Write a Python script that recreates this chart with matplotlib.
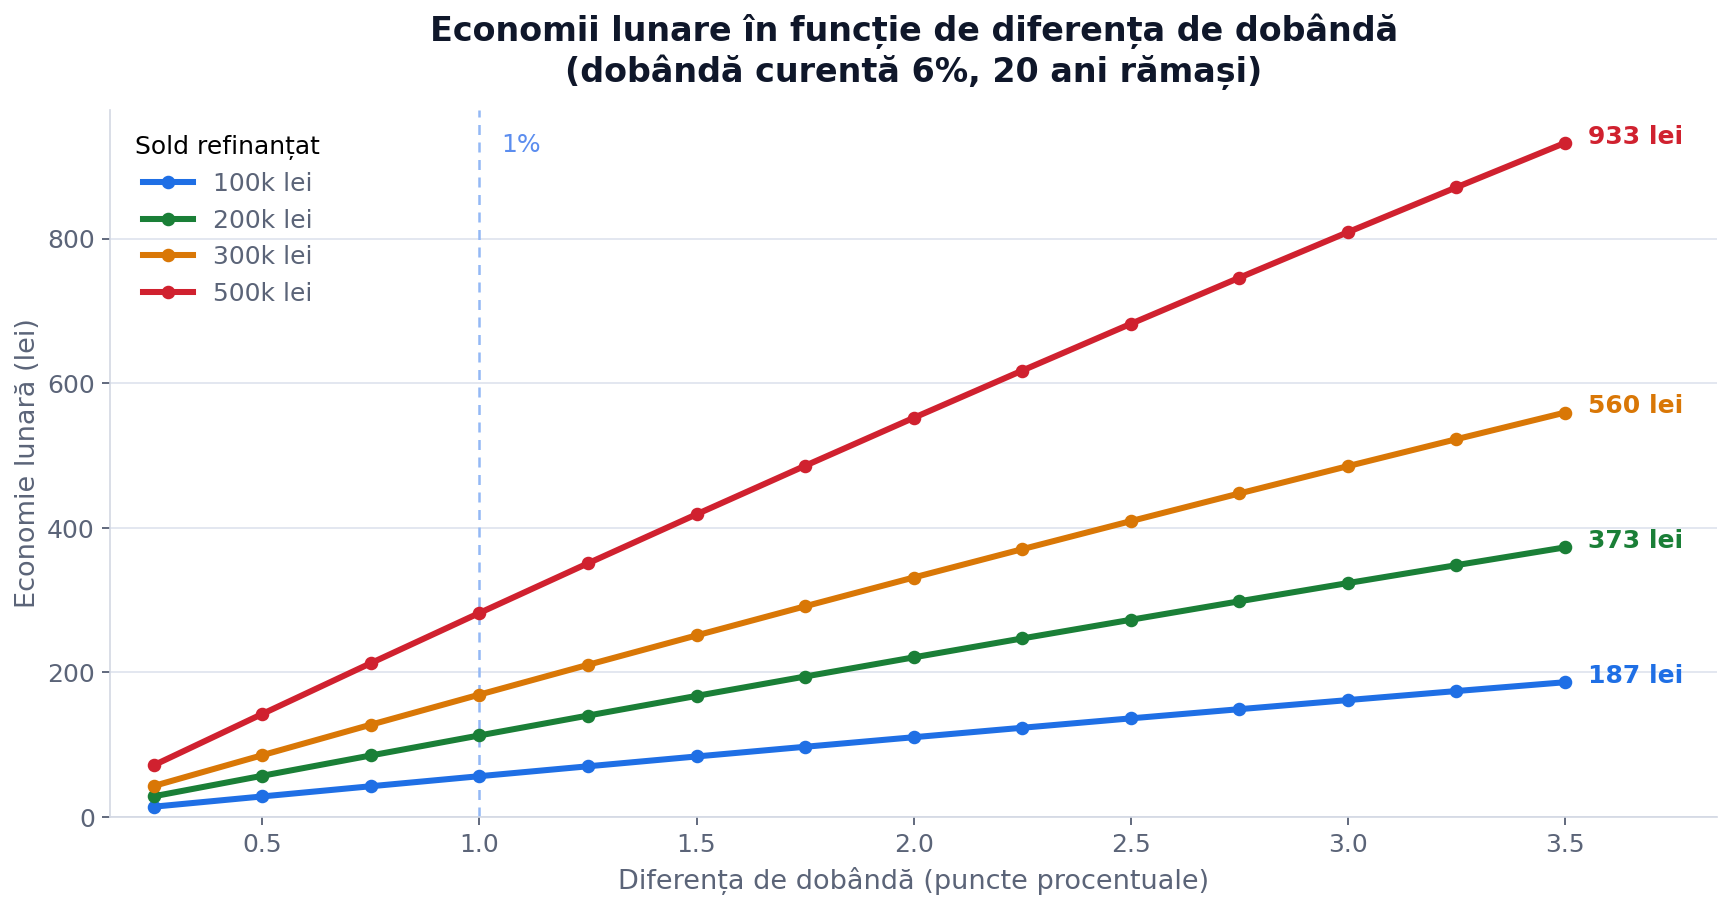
import matplotlib
matplotlib.use("Agg")
import matplotlib.pyplot as plt

plt.rcParams['font.family'] = ['DejaVu Sans']

diff = [0.25, 0.5, 0.75, 1.0, 1.25, 1.5, 1.75, 2.0, 2.25, 2.5, 2.75, 3.0, 3.25, 3.5]
s100 = [14.3, 28.5, 42.6, 56.5, 70.2, 83.8, 97.2, 110.4, 123.5, 136.5, 149.2, 161.8, 174.3, 186.5]
s200 = [28.7, 57.1, 85.2, 112.9, 140.4, 167.6, 194.4, 220.9, 247.1, 272.9, 298.5, 323.7, 348.5, 373.1]
s300 = [43.0, 85.6, 127.8, 169.4, 210.6, 251.3, 291.6, 331.4, 370.6, 409.4, 447.7, 485.5, 522.8, 559.6]
s500 = [71.7, 142.7, 213.0, 282.4, 351.1, 418.9, 486.0, 552.3, 617.7, 682.4, 746.2, 809.2, 871.3, 932.7]
labels = ["100k lei", "200k lei", "300k lei", "500k lei"]
end_labels = ["187 lei", "373 lei", "560 lei", "933 lei"]
colors = ["#1f6fe5", "#1a7f37", "#d97706", "#d0212f"]

series = [s100, s200, s300, s500]

fig = plt.figure(figsize=(11.54, 6.047), dpi=150)
ax = fig.add_axes([0.0638, 0.0992, 0.928, 0.78])

tick_col = "#5b6478"
for vals, lab, col, el in zip(series, labels, colors, end_labels):
    ax.plot(diff, vals, color=col, lw=2.9, marker='o', markersize=5.5, label=lab, zorder=3)
    ax.annotate(el, xy=(diff[-1], vals[-1]), xytext=(11, 3), textcoords='offset points',
                color=col, fontsize=12, fontweight='bold', va='center', ha='left')

ax.axvline(1.0, color="#93b8f5", lw=1.2, ls=(0, (4, 3)), zorder=1)
ax.text(1.05, 0.95, "1%", transform=ax.get_xaxis_transform(), color="#5b8def",
        fontsize=12, va='center', ha='left')

ax.set_xlim(0.15, 3.85)
ax.set_ylim(0, 979)
ax.set_yticks([0, 200, 400, 600, 800])
ax.set_xticks([0.5, 1.0, 1.5, 2.0, 2.5, 3.0, 3.5])
ax.grid(axis='y', color="#e2e6f0", lw=0.9)
ax.set_axisbelow(True)
for s in ['top', 'right']:
    ax.spines[s].set_visible(False)
for s in ['left', 'bottom']:
    ax.spines[s].set_color("#d3d8e3")
ax.tick_params(colors=tick_col, labelsize=12, length=4, width=0.9)

ax.set_xlabel("Diferența de dobândă (puncte procentuale)", fontsize=13, color=tick_col, labelpad=5)
ax.set_ylabel("Economie lunară (lei)", fontsize=13, color=tick_col, labelpad=3)
ax.set_title("Economii lunare în funcție de diferența de dobândă\n(dobândă curentă 6%, 20 ani rămași)",
             fontsize=16, fontweight='bold', color="#0f172a", pad=13)

leg = ax.legend(title="Sold refinanțat", loc='upper left', frameon=False, fontsize=12,
                title_fontsize=12, handlelength=2.0, borderaxespad=0.6)
for t in leg.get_texts():
    t.set_color(tick_col)

fig.savefig("out.png", dpi=150)
